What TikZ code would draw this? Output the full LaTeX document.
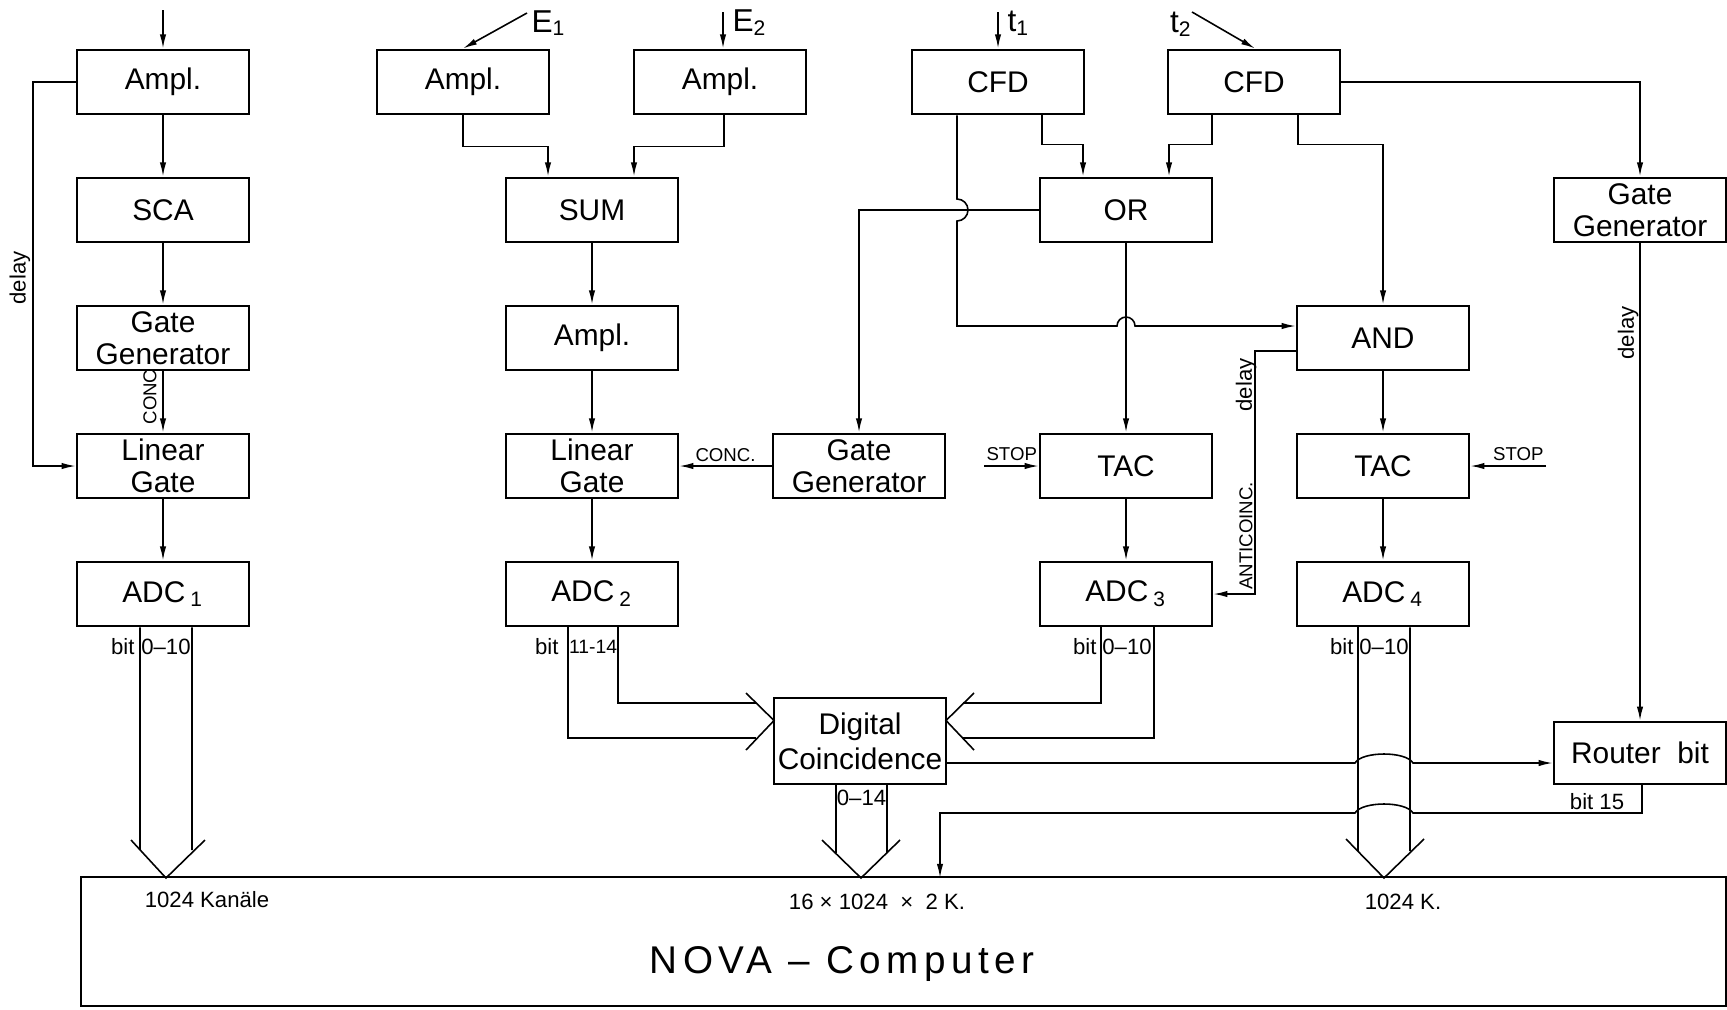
\documentclass[tikz,border=0pt]{standalone}
\usepackage{fontspec}
\setmainfont{Liberation Sans}
\newfontfamily\novafont[LetterSpace=14]{Liberation Sans}
\usetikzlibrary{arrows.meta}

\begin{document}
\begin{tikzpicture}[line width=0.45pt,
    blk/.style={draw, line width=0.7pt, minimum width=1.72cm, minimum height=0.645cm,
      inner sep=0pt, align=center, font=\fontsize{8.5}{9}\selectfont},
    sig/.style={-{Latex[length=4pt,width=1.8pt]}},
    lbl/.style={font=\fontsize{6.3}{7}\selectfont, inner sep=0.5pt},
    caps/.style={font=\fontsize{5.3}{6}\selectfont, inner sep=0.5pt},
    inp/.style={font=\fontsize{9}{10}\selectfont, inner sep=0.5pt}]
  \useasboundingbox (0,0) rectangle (17.27,10.09);

  % energy branch 1
  \node[blk] (amp1) at (1.63,9.27) {Ampl.};
  \node[blk] (sca)  at (1.63,7.99) {SCA};
  \node[blk] (gg1)  at (1.63,6.71) {Gate\\Generator};
  \node[blk] (lg1)  at (1.63,5.43) {Linear\\Gate};
  \node[blk] (adc1) at (1.63,4.15) {ADC\,\textsubscript{1}};

  % sum branch
  \node[blk] (ampE1) at (4.63,9.27) {Ampl.};
  \node[blk] (ampE2) at (7.20,9.27) {Ampl.};
  \node[blk] (sum)   at (5.92,7.99) {SUM};
  \node[blk] (amp2)  at (5.92,6.71) {Ampl.};
  \node[blk] (lg2)   at (5.92,5.43) {Linear\\Gate};
  \node[blk] (adc2)  at (5.92,4.15) {ADC\,\textsubscript{2}};
  \node[blk] (gg2)   at (8.59,5.43) {Gate\\Generator};
  \node[blk, minimum height=0.86cm, font=\fontsize{8.5}{10}\selectfont] (dc) at (8.60,2.68) {Digital\\Coincidence};

  % timing branch
  \node[blk] (cfd1)    at (9.98,9.27)  {CFD};
  \node[blk] (cfd2)    at (12.54,9.27) {CFD};
  \node[blk] (orgate)  at (11.26,7.99) {OR};
  \node[blk] (andgate) at (13.83,6.71) {AND};
  \node[blk] (tac1)    at (11.26,5.43) {TAC};
  \node[blk] (tac2)    at (13.83,5.43) {TAC};
  \node[blk] (adc3)    at (11.26,4.15) {ADC\,\textsubscript{3}};
  \node[blk] (adc4)    at (13.83,4.15) {ADC\,\textsubscript{4}};
  \node[blk] (gg3)     at (16.40,7.99) {Gate\\Generator};
  \node[blk, minimum height=0.62cm] (rb) at (16.40,2.56) {Router~~bit};

  % computer
  \node[draw, line width=0.7pt, minimum width=16.45cm, minimum height=1.29cm,
    inner sep=0pt, anchor=south west] (nova) at (0.80,0.02) {};
  \node[font=\novafont\fontsize{11}{13}\selectfont] at (8.42,0.45) {NOVA – Computer};
  \node[lbl] at (2.07,1.09) {1024 Kanäle};
  \node[lbl] at (8.77,1.07) {16 × 1024 \ × \ 2 K.};
  \node[lbl] at (14.03,1.07) {1024 K.};

  % inputs
  \coordinate (in1) at (1.63,9.99);
  \draw[sig] (in1) -- (amp1);
  \coordinate (inE1) at (5.27,9.96);
  \draw[sig] (inE1) -- (ampE1.north);
  \node[inp, anchor=west] at (5.29,9.86) {E\textsubscript{1}};
  \coordinate (inE2) at (7.23,9.97);
  \draw[sig] (inE2) -- ([xshift=0.03cm]ampE2.north);
  \node[inp, anchor=west] at (7.30,9.86) {E\textsubscript{2}};
  \coordinate (int1) at (9.98,9.97);
  \draw[sig] (int1) -- (cfd1.north);
  \node[inp, anchor=west] at (10.05,9.86) {t\textsubscript{1}};
  \coordinate (int2) at (11.92,9.97);
  \draw[sig] (int2) -- ([xshift=0.01cm]cfd2.north);
  \node[inp, anchor=east] at (11.95,9.85) {t\textsubscript{2}};

  % branch 1 chain
  \draw[sig] (amp1) -- (sca);
  \draw[sig] (sca) -- (gg1);
  \draw[sig] (gg1) -- (lg1);
  \draw[sig] (lg1) -- (adc1);
  \draw[sig] (amp1.west) -- ++(-0.43,0) |- (lg1.west);
  \node[lbl, rotate=90] at (0.20,7.31) {delay};
  \node[caps, rotate=90] at (1.50,6.12) {CONC};

  % sum chain
  \draw[sig] (ampE1.south) -- ++(0,-0.31) -| ([xshift=-0.44cm]sum.north);
  \draw[sig] ([xshift=0.04cm]ampE2.south) -- ++(0,-0.31) -| ([xshift=0.42cm]sum.north);
  \draw[sig] (sum) -- (amp2);
  \draw[sig] (amp2) -- (lg2);
  \draw[sig] (lg2) -- (adc2);
  \draw[sig] (gg2) -- (lg2) node[caps, midway, above=0.5pt] {CONC.};
  \draw[sig] (orgate.west) -| (gg2.north);

  % timing chain
  \draw[sig] ([xshift=0.44cm]cfd1.south) -- ++(0,-0.29) -| ([xshift=-0.43cm]orgate.north);
  \draw[sig] ([xshift=-0.42cm]cfd2.south) -- ++(0,-0.29) -| ([xshift=0.43cm]orgate.north);
  \draw[sig] ([xshift=0.44cm]cfd2.south) -- ++(0,-0.29) -| (andgate.north);
  \draw[sig] (cfd2.east) -| (gg3.north);
  \draw[sig] ([xshift=-0.41cm]cfd1.south) -- (9.57,8.10)
    arc[start angle=90, end angle=-90, radius=0.11] -- (9.57,6.83) -- (11.17,6.83)
    arc[start angle=180, end angle=0, radius=0.09] -- ([yshift=0.12cm]andgate.west);
  \draw[sig] (orgate) -- (tac1);
  \draw[sig] (tac1) -- (adc3);
  \draw[sig] (andgate) -- (tac2);
  \draw[sig] (tac2) -- (adc4);
  \draw[sig] (gg3) -- (rb);
  \node[lbl, rotate=90] at (16.28,6.76) {delay};

  % stop inputs
  \coordinate (stop1) at (9.84,5.43);
  \draw[sig] (stop1) -- (tac1.west);
  \node[caps, anchor=south west] at (9.84,5.46) {STOP};
  \coordinate (stop2) at (15.46,5.43);
  \draw[sig] (stop2) -- (tac2.east);
  \node[caps, anchor=south east] at (15.46,5.46) {STOP};

  % anticoincidence
  \draw[sig] ([yshift=-0.13cm]andgate.west) -- (12.55,6.58) |- (adc3.east);
  \node[lbl, rotate=90] at (12.46,6.24) {delay};
  \node[caps, rotate=90] at (12.46,4.73) {ANTICOINC.};

  % bus adc1
  \draw ([xshift=-0.23cm]adc1.south) -- (1.40,1.59);
  \draw ([xshift=0.29cm]adc1.south) -- (1.92,1.59);
  \draw (1.31,1.69) -- (1.66,1.31) -- (2.05,1.69);
  \node[lbl, anchor=east] at (1.37,3.62) {bit};
  \node[lbl] at (1.66,3.62) {0--10};

  % bus adc2
  \draw ([xshift=-0.24cm]adc2.south) |- (7.56,2.71);
  \draw ([xshift=0.26cm]adc2.south) |- (7.56,3.06);
  \draw (7.46,3.16) -- (7.74,2.885) -- (7.46,2.59);
  \node[lbl, anchor=east] at (5.61,3.62) {bit};
  \node[lbl, font=\fontsize{5.5}{6}\selectfont] at (5.93,3.62) {11-14};

  % bus adc3
  \draw ([xshift=-0.25cm]adc3.south) |- (9.63,3.06);
  \draw ([xshift=0.28cm]adc3.south) |- (9.63,2.71);
  \draw (9.74,3.16) -- (9.46,2.885) -- (9.74,2.59);
  \node[lbl, anchor=east] at (10.99,3.62) {bit};
  \node[lbl] at (11.27,3.62) {0--10};

  % bus coincidence
  \draw ([xshift=-0.24cm]dc.south) -- (8.36,1.56);
  \draw ([xshift=0.27cm]dc.south) -- (8.87,1.56);
  \draw (8.22,1.69) -- (8.61,1.31) -- (9.00,1.69);
  \node[lbl] at (8.615,2.11) {0--14};

  % bus adc4
  \draw ([xshift=-0.25cm]adc4.south) -- (13.58,1.58);
  \draw ([xshift=0.27cm]adc4.south) -- (14.10,1.58);
  \draw (13.46,1.70) -- (13.84,1.31) -- (14.24,1.70);
  \node[lbl, anchor=east] at (13.56,3.62) {bit};
  \node[lbl] at (13.84,3.62) {0--10};

  % router
  \draw[sig] ([yshift=-0.22cm]dc.east) -- (13.55,2.46)
    .. controls (13.62,2.58) and (14.06,2.58) .. (14.13,2.46) -- ([yshift=-0.10cm]rb.west);
  \draw[sig] ([xshift=0.02cm]rb.south) |- (14.13,1.96)
    .. controls (14.06,2.08) and (13.62,2.08) .. (13.55,1.96) -| (9.40,1.31);
  \node[lbl] at (15.97,2.07) {bit 15};
\end{tikzpicture}
\end{document}
